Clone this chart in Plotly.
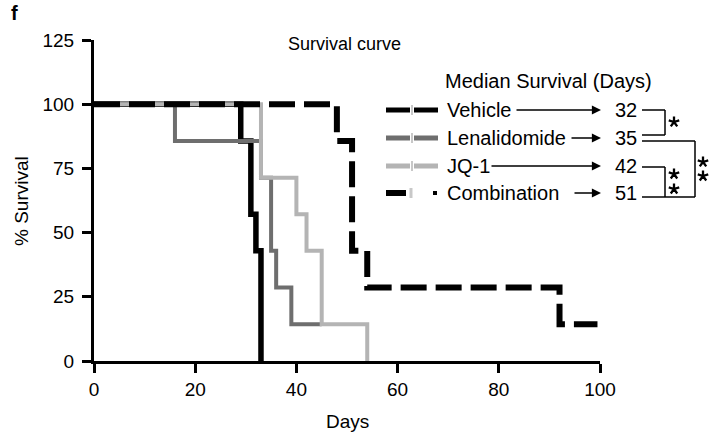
import math
import plotly.graph_objects as go

# ---------------- data ----------------
vehicle_days = [0, 29, 31, 32, 33]
vehicle_surv = [100, 85.7, 57.1, 42.9, 0]

lenalidomide_days = [0, 16, 33, 35, 36, 39, 45]
lenalidomide_surv = [100, 85.7, 71.4, 42.9, 28.6, 14.3, 14.3]

jq1_days = [0, 33, 40, 42, 45, 54]
jq1_surv = [100, 71.4, 57.1, 42.9, 14.3, 0]

combination_days = [0, 48, 51, 54, 92, 99.5]
combination_surv = [100, 85.7, 42.9, 28.6, 14.3, 14.3]

group_names = ["Vehicle", "Lenalidomide", "JQ-1", "Combination"]
median_days = ["32", "35", "42", "51"]

x_ticks = [0, 20, 40, 60, 80, 100]
y_ticks = [0, 25, 50, 75, 100, 125]

# ---------------- layout helpers ----------------
W, H = 709, 434
L, R, T, B = 94, 600, 40, 361
FONT = "Liberation Sans, Arial, Helvetica, sans-serif"


def px(x):
    return (x - L) / (R - L)


def py(y):
    return (B - y) / (B - T)


fig = go.Figure()

fig.add_trace(go.Scatter(x=vehicle_days, y=vehicle_surv, mode="lines",
                         line=dict(shape="hv", color="#000000", width=5.5), showlegend=False))
fig.add_trace(go.Scatter(x=lenalidomide_days, y=lenalidomide_surv, mode="lines",
                         line=dict(shape="hv", color="#6e6e6e", width=4), showlegend=False))
fig.add_trace(go.Scatter(x=jq1_days, y=jq1_surv, mode="lines",
                         line=dict(shape="hv", color="#b4b4b4", width=4), showlegend=False))
fig.add_trace(go.Scatter(x=combination_days, y=combination_surv, mode="lines",
                         line=dict(shape="hv", color="#000000", width=6, dash="26px,9px"),
                         showlegend=False))

shapes = []
annotations = []

# legend-like block
row_y = [110, 138, 166, 193]
sample_colors = ["#000000", "#6e6e6e", "#b4b4b4"]
for i in range(3):
    y = row_y[i]
    shapes.append(dict(type="line", xref="paper", yref="paper",
                       x0=px(386), x1=px(438), y0=py(y), y1=py(y),
                       line=dict(color=sample_colors[i], width=5)))
    shapes.append(dict(type="rect", xref="paper", yref="paper",
                       x0=px(410), x1=px(414), y0=py(y + 5), y1=py(y - 5),
                       fillcolor="#ffffff", line=dict(width=0)))
    shapes.append(dict(type="line", xref="paper", yref="paper",
                       x0=px(412), x1=px(412), y0=py(y + 5), y1=py(y - 5),
                       line=dict(color="#c8c8c8", width=2)))
# combination sample
yc = row_y[3]
shapes.append(dict(type="line", xref="paper", yref="paper",
                   x0=px(386), x1=px(406), y0=py(yc), y1=py(yc),
                   line=dict(color="#000000", width=6)))
shapes.append(dict(type="line", xref="paper", yref="paper",
                   x0=px(411), x1=px(411), y0=py(yc + 5), y1=py(yc - 5),
                   line=dict(color="#c8c8c8", width=3)))
shapes.append(dict(type="line", xref="paper", yref="paper",
                   x0=px(433), x1=px(437), y0=py(yc), y1=py(yc),
                   line=dict(color="#000000", width=4)))

arrow_start = [515, 570, 490, 573]
for i, name in enumerate(group_names):
    y = row_y[i]
    annotations.append(dict(xref="paper", yref="paper", x=px(445), y=py(y),
                            text=name, showarrow=False, xanchor="left", yanchor="middle",
                            font=dict(family=FONT, size=20, color="#000")))
    annotations.append(dict(xref="paper", yref="paper", x=px(601), y=py(y),
                            ax=arrow_start[i] - 601, ay=0, axref="pixel", ayref="pixel",
                            text="", showarrow=True, arrowhead=2, arrowsize=1.4,
                            arrowwidth=1.3, arrowcolor="#000"))
    annotations.append(dict(xref="paper", yref="paper", x=px(626), y=py(y),
                            text=median_days[i], showarrow=False, xanchor="center",
                            yanchor="middle", font=dict(family=FONT, size=20, color="#000")))

annotations.append(dict(xref="paper", yref="paper", x=px(443), y=py(81),
                        text="Median Survival (Days)", showarrow=False, xanchor="left",
                        yanchor="middle", font=dict(family=FONT, size=20, color="#000")))


def seg(x0, y0, x1, y1):
    shapes.append(dict(type="line", xref="paper", yref="paper",
                       x0=px(x0), x1=px(x1), y0=py(y0), y1=py(y1),
                       line=dict(color="#000", width=1.5)))


# Vehicle vs Lenalidomide bracket
seg(642, 110, 665, 110)
seg(665, 110, 665, 135)
seg(642, 135, 665, 135)
# JQ-1 vs Combination bracket
seg(642, 167, 665, 167)
seg(665, 167, 665, 197)
# Lenalidomide vs Combination bracket
seg(642, 141, 695, 141)
seg(695, 141, 695, 197)
seg(642, 197, 695, 197)


def star(cx, cy, r=5.5):
    parts = []
    for k in range(5):
        a = math.radians(90 + 72 * k)
        ex = cx + r * math.cos(a)
        ey = cy - r * math.sin(a)
        parts.append(f"M{px(cx):.5f},{py(cy):.5f} L{px(ex):.5f},{py(ey):.5f}")
    shapes.append(dict(type="path", xref="paper", yref="paper", path=" ".join(parts),
                       line=dict(color="#000", width=2.3)))


star(674, 122)
star(674, 174)
star(674, 189)
star(703, 162)
star(703, 176)

# titles
annotations.append(dict(xref="paper", yref="paper", x=px(344), y=py(44),
                        text="Survival curve", showarrow=False, xanchor="center",
                        yanchor="middle", font=dict(family=FONT, size=18, color="#000")))
annotations.append(dict(xref="paper", yref="paper", x=px(347), y=py(421),
                        text="Days", showarrow=False, xanchor="center",
                        yanchor="middle", font=dict(family=FONT, size=19, color="#000")))
annotations.append(dict(xref="paper", yref="paper", x=px(22), y=py(201),
                        text="% Survival", showarrow=False, textangle=-90,
                        xanchor="center", yanchor="middle",
                        font=dict(family=FONT, size=19, color="#000")))
annotations.append(dict(xref="paper", yref="paper", x=px(14), y=py(13),
                        text="<b>f</b>", showarrow=False, xanchor="center",
                        yanchor="middle", font=dict(family=FONT, size=20, color="#000")))

axis_common = dict(showline=True, linecolor="#000", linewidth=3, mirror=False,
                   ticks="outside", ticklen=9, tickwidth=3, tickcolor="#000",
                   showgrid=False, zeroline=False,
                   tickfont=dict(family=FONT, size=19, color="#000"))

fig.update_layout(
    width=W, height=H,
    margin=dict(l=L, r=W - R, t=T, b=H - B, pad=0),
    paper_bgcolor="#ffffff", plot_bgcolor="#ffffff",
    xaxis=dict(range=[0, 100], tickvals=x_ticks, **axis_common),
    yaxis=dict(range=[0, 125], tickvals=y_ticks, ticklabelstandoff=4, **axis_common),
    shapes=shapes, annotations=annotations, showlegend=False,
)

fig.write_html("out.html")
